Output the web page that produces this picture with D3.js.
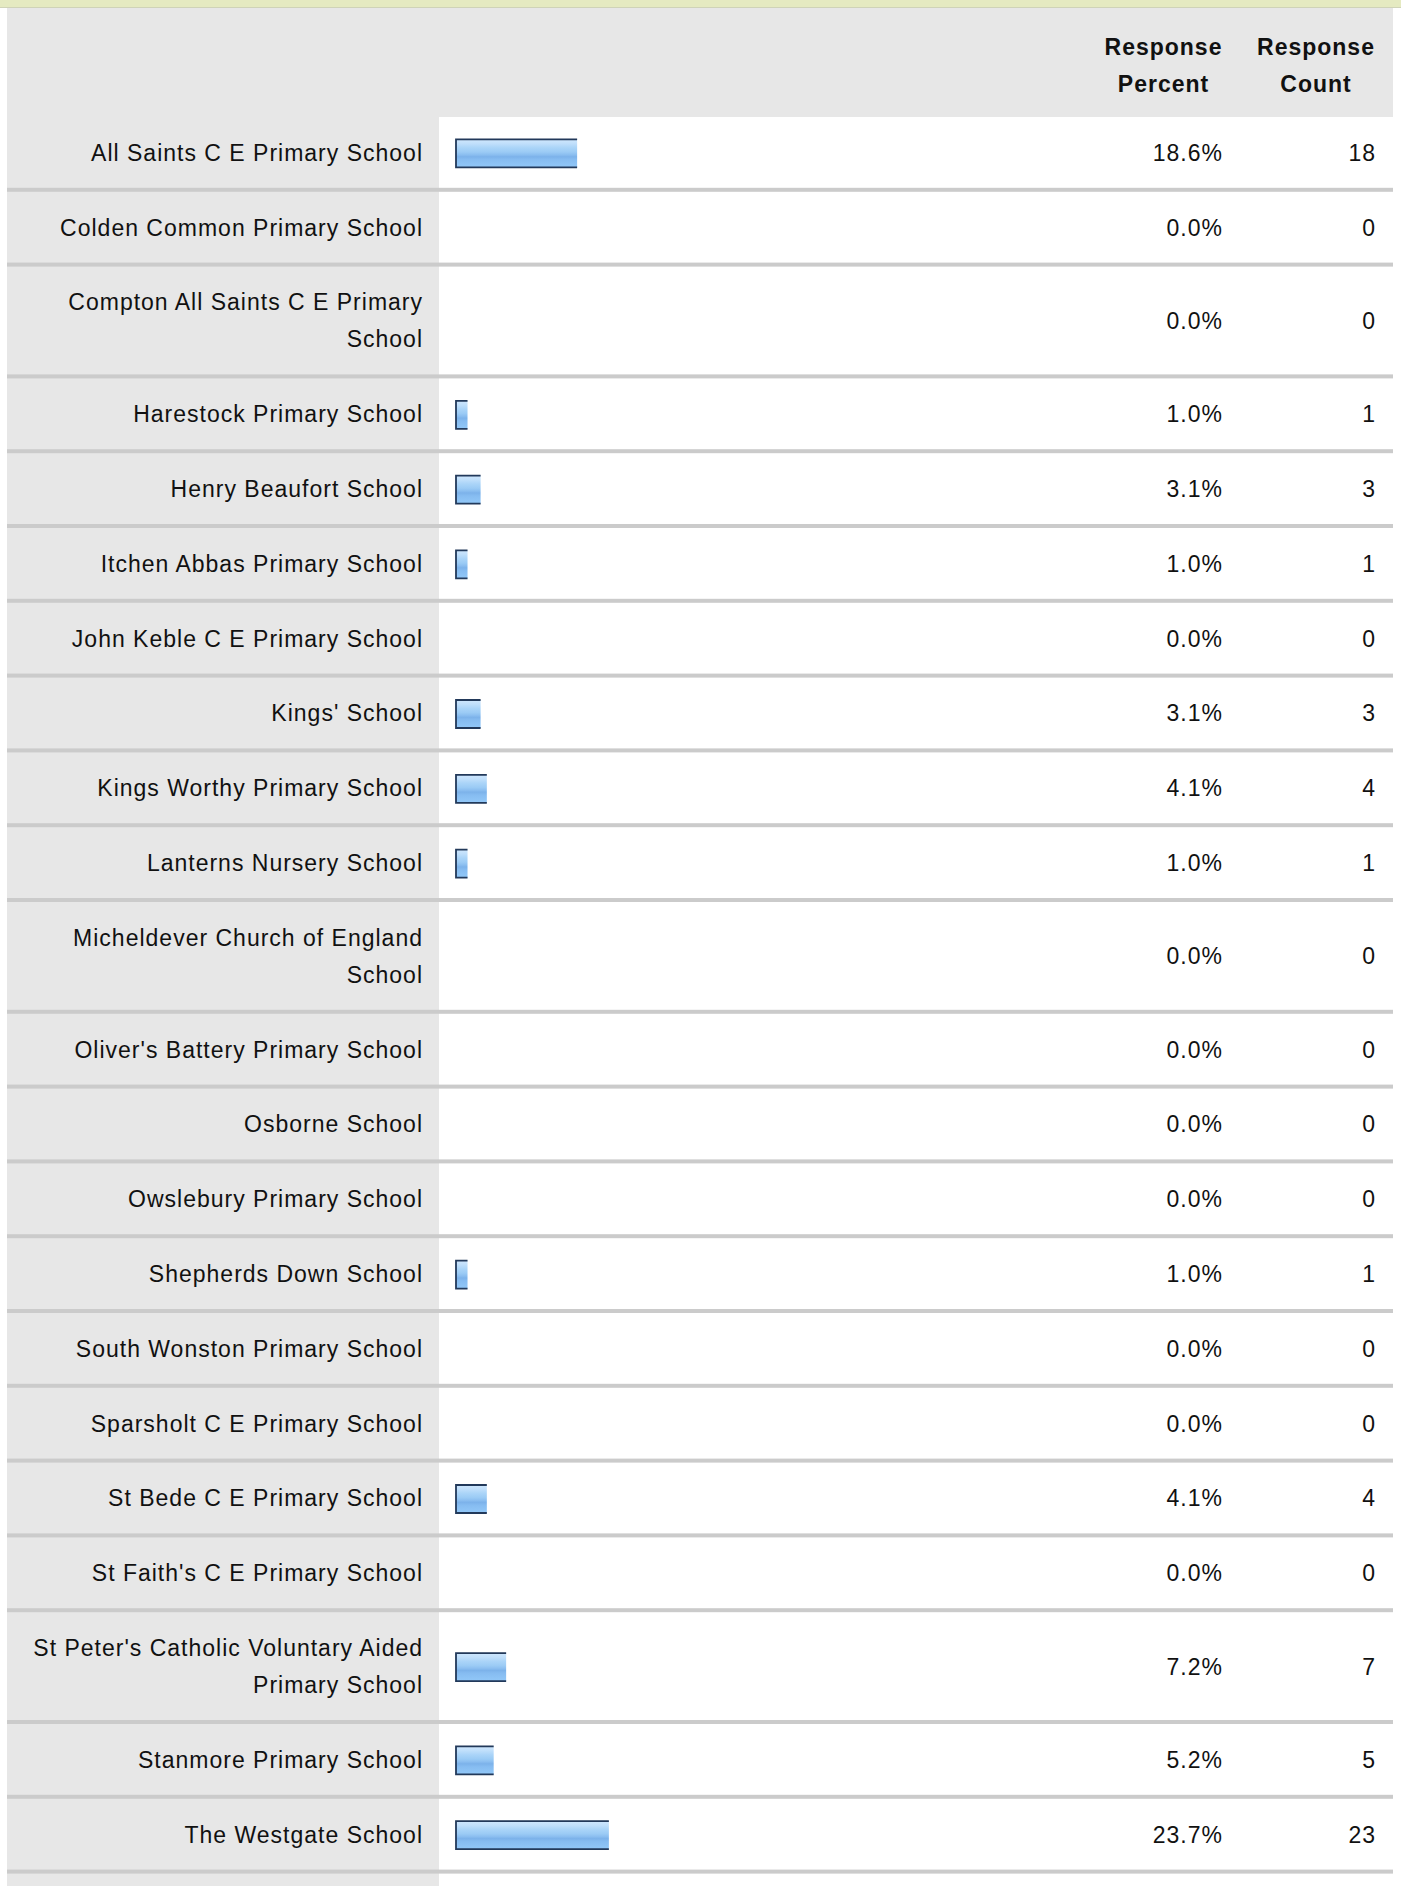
<!DOCTYPE html>
<html>
<head>
<meta charset="utf-8">
<script src="https://cdn.jsdelivr.net/npm/d3@7"></script>
<style>
  body { margin: 0; background: #fff; }
  svg text { font-family: "Liberation Sans", Arial, Helvetica, sans-serif; }
</style>
</head>
<body>
<div id="chart"></div>
<script>
// answer choices, one per row ("\n" marks where the label wraps)
const schools = [
    "All Saints C E Primary School",
    "Colden Common Primary School",
    "Compton All Saints C E Primary\nSchool",
    "Harestock Primary School",
    "Henry Beaufort School",
    "Itchen Abbas Primary School",
    "John Keble C E Primary School",
    "Kings' School",
    "Kings Worthy Primary School",
    "Lanterns Nursery School",
    "Micheldever Church of England\nSchool",
    "Oliver's Battery Primary School",
    "Osborne School",
    "Owslebury Primary School",
    "Shepherds Down School",
    "South Wonston Primary School",
    "Sparsholt C E Primary School",
    "St Bede C E Primary School",
    "St Faith's C E Primary School",
    "St Peter's Catholic Voluntary Aided\nPrimary School",
    "Stanmore Primary School",
    "The Westgate School"
];
const percents = [18.6, 0.0, 0.0, 1.0, 3.1, 1.0, 0.0, 3.1, 4.1, 1.0, 0.0, 0.0, 0.0, 0.0, 1.0, 0.0, 0.0, 4.1, 0.0, 7.2, 5.2, 23.7];
const counts = [18, 0, 0, 1, 3, 1, 0, 3, 4, 1, 0, 0, 0, 0, 1, 0, 0, 4, 0, 7, 5, 23];
const headers = [["Response", "Percent"], ["Response", "Count"]];

const width = 1401, height = 1886;
const left = 7, right = 1393;
const labelColW = 439;       // right edge of the grey label column
const headerTop = 8, headerBottom = 117;
const rowH = 70.8, lineH = 37, sepH = 4;
const fontSize = 23;

const data = schools.map((s, i) => ({
    lines: s.split("\n"),
    pct: percents[i],
    count: counts[i]
}));

// stack the rows; wrapped labels make taller rows
let yPos = headerBottom;
data.forEach(d => {
    d.y = yPos;
    d.h = rowH + (d.lines.length - 1) * lineH;
    yPos += d.h + sepH;
});

const x = d3.scaleLinear().domain([0, 100]).range([5.3, 628]);
const barX = 456, barH = 28;
const pctX = 1223, countX = 1376;

const svg = d3.select("#chart").append("svg")
    .attr("width", width)
    .attr("height", height);

const grad = svg.append("defs").append("linearGradient")
    .attr("id", "barFill")
    .attr("x1", 0).attr("y1", 0).attr("x2", 0).attr("y2", 1);
[[0, "#cfe7fd"], [0.15, "#c0dffb"], [0.3, "#aad4f8"], [0.45, "#9bcbf5"],
 [0.55, "#8bbef0"], [0.62, "#7cb2ea"], [0.72, "#86bcf1"], [1, "#92c8f8"]]
    .forEach(([o, c]) => grad.append("stop").attr("offset", o).attr("stop-color", c));

// top band + header
svg.append("rect").attr("x", 0).attr("y", 0).attr("width", width).attr("height", headerTop)
    .attr("fill", "#e5eac1");
svg.append("rect").attr("x", 0).attr("y", headerTop - 1).attr("width", width).attr("height", 1)
    .attr("fill", "#cfd3b8");
svg.append("rect").attr("x", left).attr("y", headerTop).attr("width", right - left)
    .attr("height", headerBottom - headerTop).attr("fill", "#e7e7e7");

// grey label column for all rows (plus the bit peeking in at the bottom)
svg.append("rect").attr("x", left).attr("y", headerBottom).attr("width", labelColW - left)
    .attr("height", height - headerBottom).attr("fill", "#e7e7e7");

const headG = svg.append("g")
    .attr("font-size", 23)
    .attr("font-weight", "bold")
    .attr("letter-spacing", 1)
    .attr("fill", "#111")
    .attr("text-anchor", "middle");
[1163.5, 1316].forEach((cx, i) => {
    headers[i].forEach((t, j) => {
        headG.append("text")
            .attr("x", cx)
            .attr("y", 55 + j * 37)
            .text(t);
    });
});

const rows = svg.append("g").selectAll("g")
    .data(data)
    .join("g")
    .attr("transform", d => `translate(0,${d.y})`);

rows.append("rect")
    .attr("x", left)
    .attr("y", d => d.h)
    .attr("width", right - left)
    .attr("height", sepH)
    .attr("fill", "#cbcbcb");

rows.append("text")
    .attr("text-anchor", "end")
    .attr("font-size", fontSize)
    .attr("letter-spacing", 1)
    .attr("fill", "#111")
    .selectAll("tspan")
    .data(d => d.lines.map((l, k) => ({l, k, n: d.lines.length, h: d.h})))
    .join("tspan")
    .attr("x", 423)
    .attr("y", t => t.h / 2 + (t.k - (t.n - 1) / 2) * lineH + 8.5)
    .text(t => t.l);

// bars: gradient fill, dark edge on left, top and bottom (right end left open)
const bars = rows.filter(d => d.pct > 0);
bars.append("rect")
    .attr("x", barX)
    .attr("y", d => d.h / 2 - barH / 2 + 1)
    .attr("width", d => x(d.pct))
    .attr("height", barH)
    .attr("fill", "url(#barFill)");
bars.append("path")
    .attr("fill", "none")
    .attr("stroke", "#22395a")
    .attr("stroke-width", 1.8)
    .attr("d", d => {
        const y0 = d.h / 2 - barH / 2 + 1, x1 = barX + x(d.pct);
        return `M${x1},${y0}H${barX}V${y0 + barH}H${x1}`;
    });

rows.append("text")
    .attr("x", pctX)
    .attr("y", d => d.h / 2 + 8.5)
    .attr("text-anchor", "end")
    .attr("font-size", fontSize)
    .attr("letter-spacing", 1)
    .attr("fill", "#111")
    .text(d => d.pct.toFixed(1) + "%");

rows.append("text")
    .attr("x", countX)
    .attr("y", d => d.h / 2 + 8.5)
    .attr("text-anchor", "end")
    .attr("font-size", fontSize)
    .attr("letter-spacing", 1)
    .attr("fill", "#111")
    .text(d => d.count);
</script>
</body>
</html>
